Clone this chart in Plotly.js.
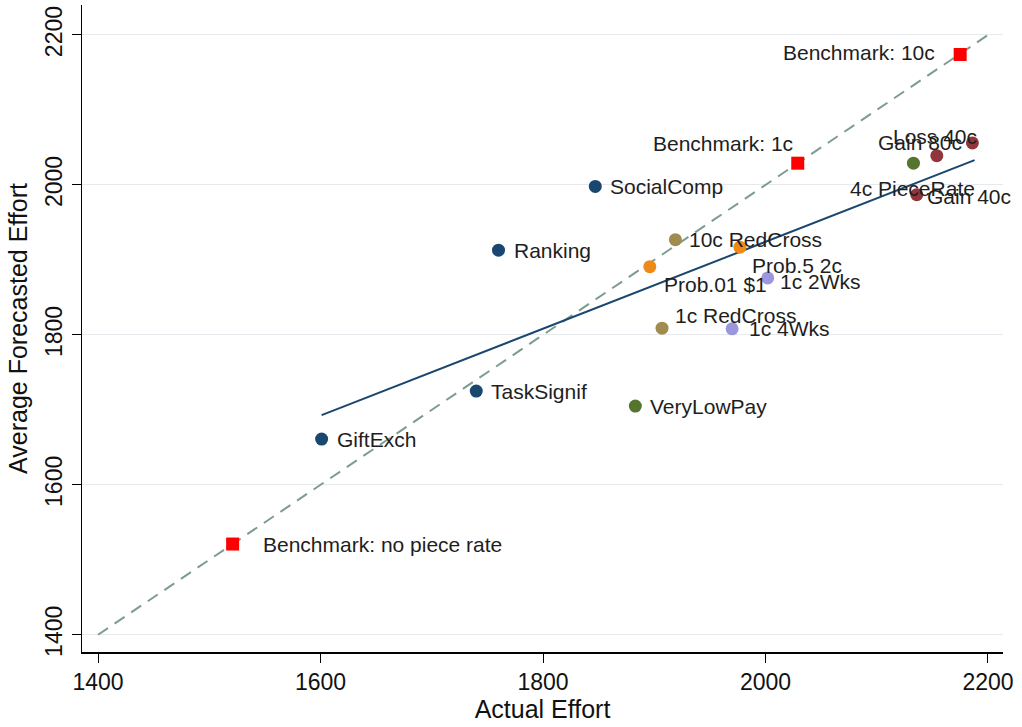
<!DOCTYPE html>
<html>
<head>
<meta charset="utf-8">
<script src="https://cdn.plot.ly/plotly-3.0.1.min.js"></script>
<style>html,body{margin:0;padding:0;background:#fff;}#chart{width:1022px;height:727px;}</style>
</head>
<body>
<div id="chart"></div>
<script>
// ---- data ----
const treatments = ["SocialComp","Ranking","TaskSignif","GiftExch","VeryLowPay","10c RedCross","Prob.01 $1","Prob.5 2c","1c 2Wks","1c RedCross","1c 4Wks","4c PieceRate","Gain 80c","Loss 40c","Gain 40c"];
const actualEffort = [1847,1760,1740,1601,1883,1919,1896,1977,2002,1907,1970,2133,2154,2186,2136];
const forecastEffort = [1998,1913,1725,1661,1705,1927,1891,1917,1876,1809,1808,2029,2039,2056,1987];
const treatmentGroup = ["psych","psych","psych","psych","pay","charity","prob","prob","time","charity","time","pay","frame","frame","frame"];

const benchmarks = ["Benchmark: 10c","Benchmark: 1c","Benchmark: no piece rate"];
const benchActual = [2175,2029,1521];
const benchForecast = [2174,2029,1521];

const fitX = [1601,2188];
const fitY = [1693,2033];
const diagX = [1400,2200];
const diagY = [1400,2200];

const tickVals = [1400,1600,1800,2000,2200];

// ---- styling ----
const groupColor = {psych:"#1a476f", pay:"#55752f", charity:"#a08c4f", prob:"#ef8a17", time:"#9c97dc", frame:"#90353b"};
// label placement: [anchor, dx(px), dy(px, up positive)]
const labelPlace = {
  "SocialComp":["left",13,0], "Ranking":["left",13,0], "TaskSignif":["left",13,0], "GiftExch":["left",13,0],
  "VeryLowPay":["left",13,0], "10c RedCross":["left",12,0], "Prob.01 $1":["left",12,-18], "Prob.5 2c":["left",10,-18],
  "1c 2Wks":["left",10,-4], "1c RedCross":["left",11,13], "1c 4Wks":["left",15,0], "4c PieceRate":["center",-1,-25],
  "Gain 80c":["center",-17,13], "Loss 40c":["center",-37,6], "Gain 40c":["left",8,-2],
  "Benchmark: 10c":["right",-23,2], "Benchmark: 1c":["right",-3,20], "Benchmark: no piece rate":["left",28,0]
};

const font = "Liberation Sans, Arial, sans-serif";

const traces = [
  {x: diagX, y: diagY, mode:"lines", line:{color:"#7d9c8f", width:2, dash:"12px,8px"}, hoverinfo:"skip", showlegend:false},
  {x: fitX, y: fitY, mode:"lines", line:{color:"#1a476f", width:2}, hoverinfo:"skip", showlegend:false},
  {x: actualEffort, y: forecastEffort, mode:"markers", text: treatments,
   marker:{size:13, color: treatmentGroup.map(g => groupColor[g])}, showlegend:false},
  {x: benchActual, y: benchForecast, mode:"markers", text: benchmarks,
   marker:{size:13, symbol:"square", color:"#ff0000"}, showlegend:false}
];

const annotations = [];
function addLabels(names, xs, ys){
  names.forEach((n,i) => {
    const p = labelPlace[n];
    annotations.push({x: xs[i], y: ys[i], text: n, showarrow:false, xanchor:p[0], yanchor:"middle",
      xshift:p[1], yshift:p[2], font:{family:font, size:21, color:"#1e1e1e"}});
  });
}
addLabels(treatments, actualEffort, forecastEffort);
addLabels(benchmarks, benchActual, benchForecast);

const layout = {
  width:1022, height:727,
  margin:{l:82, r:19, t:5, b:75},
  paper_bgcolor:"#ffffff", plot_bgcolor:"#ffffff",
  showlegend:false,
  font:{family:font, color:"#111"},
  xaxis:{range:[1385.6,2213.5], tickvals:tickVals, ticktext:tickVals.map(String), showgrid:false, zeroline:false,
    showline:true, linecolor:"#000", linewidth:1.5, ticks:"outside", ticklen:9, tickcolor:"#000",
    tickfont:{size:23, family:font, color:"#111"},
    title:{text:"Actual Effort", font:{size:25, family:font, color:"#111"}, standoff:4}},
  yaxis:{range:[1377,2240], tickvals:tickVals, ticktext:tickVals.map(String), showgrid:true, gridcolor:"#e6eaee", gridwidth:1,
    zeroline:false, showline:true, linecolor:"#000", linewidth:1.5, ticks:"outside", ticklen:9, tickcolor:"#000",
    tickangle:-90, tickfont:{size:23, family:font, color:"#111"},
    title:{text:"Average Forecasted Effort", font:{size:25, family:font, color:"#111"}, standoff:6}},
  annotations: annotations
};

Plotly.newPlot("chart", traces, layout, {displayModeBar:false, staticPlot:true});
</script>
</body>
</html>
